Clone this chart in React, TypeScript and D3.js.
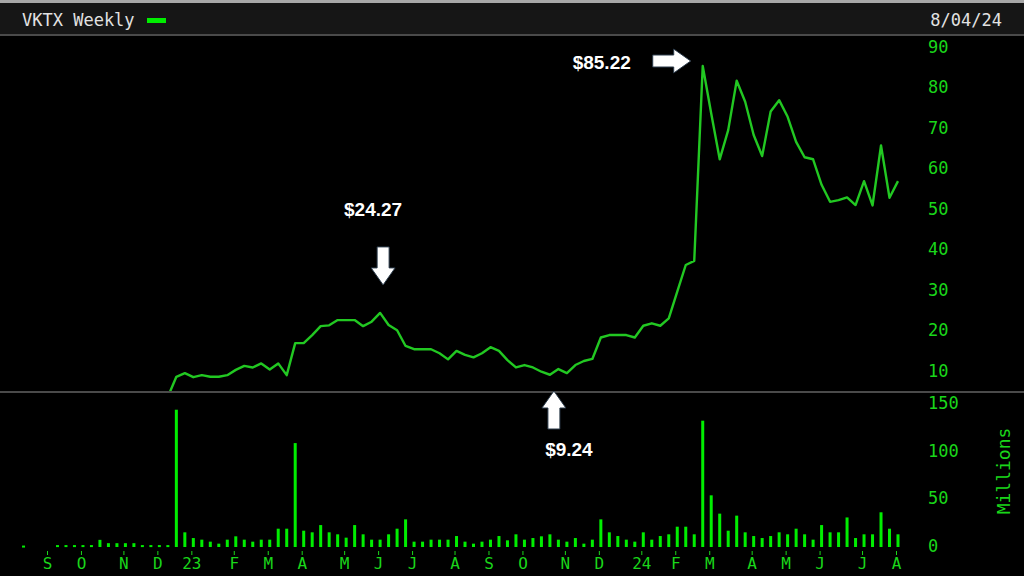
import React from "react";
import * as d3 from "d3";

// weekly bars, index 0 = first week of Sep 2022
const volumeStart = -3;
const volume = [
  1.5, 0, 0, 0, 2, 2, 2, 2, 2, 7.5, 4, 4, 4, 4, 2, 2, 2, 2, 144, 15.4, 9.4, 7.7, 5.6, 3.5, 7.7, 11.2,
  7.7, 5.6, 7.7, 7.7, 19.2, 19.2, 109, 17.1, 15.4, 23, 15.4, 13.3, 9.8, 23, 13.3, 7.7, 7.7, 13.3,
  19.2, 29, 5.6, 5.6, 7.7, 7.7, 7.7, 11.5, 5.6, 3.5, 5.6, 7.7, 11.5, 7, 13.3, 7.7, 9.4, 11.2, 13.3,
  7.7, 5.6, 9.4, 3.5, 7.7, 29, 15.4, 11.5, 7.7, 5.6, 15.4, 7.7, 11.5, 13.3, 21.3, 21.3, 13.3, 132.5,
  54.2, 35, 17.1, 32.9, 15.4, 11.5, 9.4, 11.5, 15.4, 13.3, 19.2, 13.3, 7.7, 23, 15.4, 15.4, 31, 9.4,
  13.3, 13.3, 36.4, 19.2, 13.3,
];

const priceStart = 14;
const price = [
  3.55, 8.5, 9.4, 8.4, 8.9, 8.5, 8.5, 8.9, 10.2, 11.2, 10.8, 11.8, 10.3, 11.8, 8.9, 16.8, 16.8, 18.8,
  21.0, 21.2, 22.5, 22.5, 22.5, 21.0, 22.1, 24.27, 21.3, 20.0, 16.1, 15.3, 15.3, 15.3, 14.3, 12.8,
  14.9, 13.9, 13.3, 14.3, 15.8, 14.9, 12.6, 10.8, 11.4, 10.8, 9.75, 9.0, 10.4, 9.4, 11.4, 12.4, 12.9,
  18.2, 18.8, 18.8, 18.8, 18.2, 21.1, 21.7, 21.1, 22.9, 29.5, 36.1, 37.1, 85.22, 73.5, 62.2, 69.4,
  81.6, 76.4, 68.2, 63.0, 74.0, 76.8, 72.7, 66.5, 62.7, 62.2, 55.9, 51.7, 52.1, 52.8, 50.9, 56.8,
  50.8, 65.6, 52.7, 56.8,
];

const monthWeeks = [0, 4, 9, 13, 17, 22, 26, 30, 35, 39, 43, 48, 52, 56, 61, 65, 70, 74, 78, 83, 87, 91, 96, 100];
const monthLabels = ["S", "O", "N", "D", "23", "F", "M", "A", "M", "J", "J", "A", "S", "O", "N", "D", "24", "F", "M", "A", "M", "J", "J", "A"];

const priceTicks = [10, 20, 30, 40, 50, 60, 70, 80, 90];
const volumeTicks = [0, 50, 100, 150];

// annotated weeks: [week, label]
const callouts: [number, string][] = [
  [39, "$24.27"],
  [59, "$9.24"],
  [77, "$85.22"],
];

const W = 1024;
const H = 576;
const green = "#1ad61a";
const mono = "'DejaVu Sans Mono', monospace";

const x = d3.scaleLinear().domain([0, 100]).range([49, 898]);
const yP = d3.scaleLinear().domain([10, 90]).range([370.7, 46.7]);
const yV = d3.scaleLinear().domain([0, 150]).range([547, 404]);

const Arrow: React.FC<{ cx: number; cy: number; dir: "down" | "up" | "right" }> = ({ cx, cy, dir }) => {
  // arrow drawn pointing down, tip at (0,0), then rotated
  const d = "M0,0 L-12,-17 L-6,-17 L-6,-38 L6,-38 L6,-17 L12,-17 Z";
  const rot = dir === "down" ? 0 : dir === "up" ? 180 : -90;
  return (
    <path
      d={d}
      transform={`translate(${cx},${cy}) rotate(${rot})`}
      fill="#ffffff"
      stroke="#2a3a4a"
      strokeWidth={1}
    />
  );
};

export default function App() {
  const pts: [number, number][] = price.map((p, k) => [x(k + priceStart), yP(p)]);
  const line = d3.line()(pts) || "";
  const [w1, l1] = callouts[0];
  const [w2, l2] = callouts[1];
  const [w3, l3] = callouts[2];
  const p1: [number, number] = [x(w1), yP(price[w1 - priceStart])];
  const p2: [number, number] = [x(w2), yP(price[w2 - priceStart])];
  const p3: [number, number] = [x(w3), yP(price[w3 - priceStart])];

  return (
    <div style={{ position: "fixed", left: 0, top: 0 }}>
      <svg width={W} height={H} style={{ display: "block", background: "#000" }}>
        <defs>
          <clipPath id="priceClip">
            <rect x={0} y={37} width={W} height={354} />
          </clipPath>
        </defs>
        <rect x={0} y={0} width={W} height={H} fill="#000" />
        {/* header */}
        <rect x={0} y={0} width={W} height={36} fill="#161616" />
        <rect x={0} y={0} width={W} height={3} fill="#a8a8a8" />
        <rect x={0} y={34} width={W} height={2} fill="#4a4a4a" />
        <text x={22} y={26} fill="#e2e2e2" fontFamily={mono} fontSize={17}>
          VKTX Weekly
        </text>
        <rect x={147} y={18} width={19} height={5} fill="#00ee00" />
        <text x={1002} y={26} fill="#e2e2e2" fontFamily={mono} fontSize={17} textAnchor="end">
          8/04/24
        </text>

        {/* separator */}
        <rect x={0} y={391} width={W} height={2} fill="#4a4a4a" />

        {/* price axis */}
        {priceTicks.map((t) => (
          <text key={t} x={928} y={yP(t)} dy="0.35em" fill={green} fontFamily={mono} fontSize={17}>
            {t}
          </text>
        ))}

        {/* volume axis */}
        {volumeTicks.map((t) => (
          <text key={t} x={928} y={yV(t) - 1} dy="0.35em" fill={green} fontFamily={mono} fontSize={17}>
            {t}
          </text>
        ))}
        <text
          transform="translate(1010,471) rotate(-90)"
          textAnchor="middle"
          fill={green}
          fontFamily={mono}
          fontSize={18}
        >
          Millions
        </text>

        {/* volume bars */}
        {volume.map((v, k) =>
          v > 0 ? (
            <rect
              key={k}
              x={x(k + volumeStart) - 1.5}
              y={yV(v)}
              width={3}
              height={Math.max(yV(0) - yV(v), 2)}
              fill="#00ee00"
            />
          ) : null
        )}

        {/* month ticks */}
        {monthWeeks.map((wk, k) => (
          <g key={k} transform={`translate(${x(wk) - 1.5},0)`}>
            <line y1={551} y2={555} stroke={green} strokeWidth={1} />
            <text y={563} dy="0.35em" textAnchor="middle" fill={green} fontFamily={mono} fontSize={16}>
              {monthLabels[k]}
            </text>
          </g>
        ))}

        {/* price line */}
        <path d={line} fill="none" stroke="#22c822" strokeWidth={2.4} strokeLinejoin="round" clipPath="url(#priceClip)" />

        {/* callouts */}
        <g fontFamily="'Liberation Sans', Arial, sans-serif" fontWeight="bold" fontSize={19} fill="#ffffff">
          <Arrow cx={p1[0] + 3} cy={p1[1] - 28} dir="down" />
          <text x={p1[0] - 7} y={p1[1] - 104} dy="0.35em" textAnchor="middle">
            {l1}
          </text>
          <Arrow cx={p2[0] + 4} cy={391} dir="up" />
          <text x={p2[0] + 19} y={449} dy="0.35em" textAnchor="middle">
            {l2}
          </text>
          <Arrow cx={p3[0] - 12} cy={61} dir="right" />
          <text x={p3[0] - 101} y={62} dy="0.35em" textAnchor="middle">
            {l3}
          </text>
        </g>
      </svg>
    </div>
  );
}
